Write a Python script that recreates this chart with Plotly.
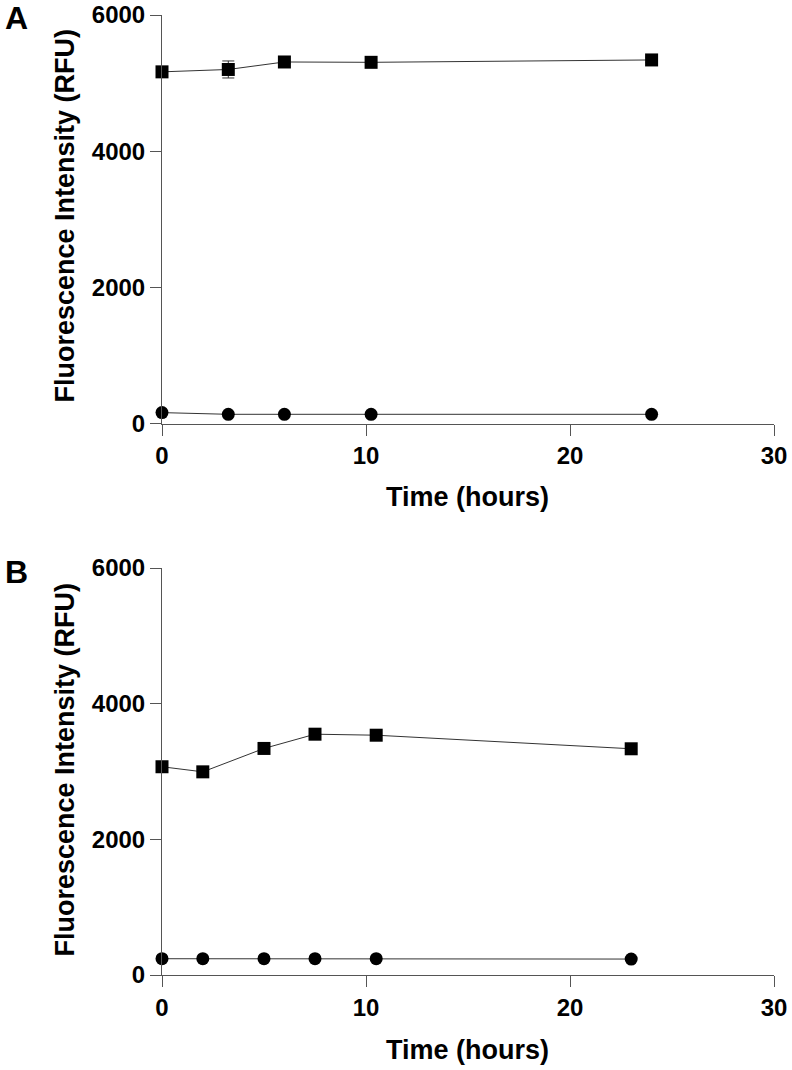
import plotly.graph_objects as go

# Panel A data
time_a = [0, 3.25, 6, 10.25, 24]
square_a = [5165, 5200, 5310, 5305, 5340]
square_a_err = [0, 125, 20, 20, 40]
circle_a = [160, 135, 135, 135, 135]

# Panel B data
time_b = [0, 2, 5, 7.5, 10.5, 23]
square_b = [3070, 2995, 3340, 3550, 3535, 3335]
circle_b = [240, 240, 240, 240, 240, 235]

x_ticks = [0, 10, 20, 30]
y_ticks = [0, 2000, 4000, 6000]

W, H = 792, 1070
ML = 161.5
MR = W - 774
FONT = "Liberation Sans, Arial, sans-serif"
AX = "#555555"

fig = go.Figure()

def add_panel(xs, sq, circ, xa, ya, err=None):
    sq_kw = dict(x=xs, y=sq, mode="lines+markers", xaxis=xa, yaxis=ya,
                 line=dict(color="#333333", width=1),
                 marker=dict(symbol="square", size=13, color="black"),
                 cliponaxis=False, showlegend=False)
    if err is not None:
        sq_kw["error_y"] = dict(type="data", array=err, visible=True,
                                color="#333333", thickness=1, width=6)
    fig.add_trace(go.Scatter(**sq_kw))
    fig.add_trace(go.Scatter(x=xs, y=circ, mode="lines+markers", xaxis=xa, yaxis=ya,
                             line=dict(color="#333333", width=1),
                             marker=dict(symbol="circle", size=13, color="black"),
                             cliponaxis=False, showlegend=False))

add_panel(time_a, square_a, circle_a, "x", "y", square_a_err)
add_panel(time_b, square_b, circle_b, "x2", "y2")

def py(p):
    return 1 - p / H

def px(p):
    return (p - ML) / (W - ML - MR)

tickfont = dict(family=FONT, size=24, color="black", weight="bold")
axis_common = dict(showline=True, linecolor=AX, linewidth=1, ticks="outside",
                   ticklen=11, tickcolor=AX, tickwidth=1, showgrid=False,
                   zeroline=False, tickfont=tickfont, automargin=False,
                   ticklabeloverflow="allow")

fig.update_layout(
    width=W, height=H, paper_bgcolor="white", plot_bgcolor="white",
    margin=dict(l=ML, r=MR, t=0, b=0),
    font=dict(family=FONT, color="black"),
    xaxis=dict(domain=[0, 1], range=[0, 30], tickvals=x_ticks, anchor="y", **axis_common),
    yaxis=dict(domain=[py(423.5), py(15)], range=[0, 6000], tickvals=y_ticks, anchor="x", **axis_common),
    xaxis2=dict(domain=[0, 1], range=[0, 30], tickvals=x_ticks, anchor="y2", **axis_common),
    yaxis2=dict(domain=[py(975), py(568)], range=[0, 6000], tickvals=y_ticks, anchor="x2", **axis_common),
)

title_font = dict(family=FONT, size=27, color="black")
annos = [
    dict(text="<b>Fluorescence Intensity (RFU)</b>", x=px(64), y=py(216), textangle=-90),
    dict(text="<b>Time (hours)</b>", x=px(467), y=py(497)),
    dict(text="<b>Fluorescence Intensity (RFU)</b>", x=px(64), y=py(770), textangle=-90),
    dict(text="<b>Time (hours)</b>", x=px(467), y=py(1050)),
]
for a in annos:
    fig.add_annotation(xref="paper", yref="paper", showarrow=False,
                       xanchor="center", yanchor="middle", font=title_font, **a)

for lab, yy in [("A", 18), ("B", 572)]:
    fig.add_annotation(text=f"<b>{lab}</b>", xref="paper", yref="paper",
                       x=px(16), y=py(yy), showarrow=False, xanchor="center",
                       yanchor="middle", font=dict(family=FONT, size=32, color="black"))

fig.write_html("out.html", config={"displayModeBar": False},
               post_script="document.body.style.margin='0';")
